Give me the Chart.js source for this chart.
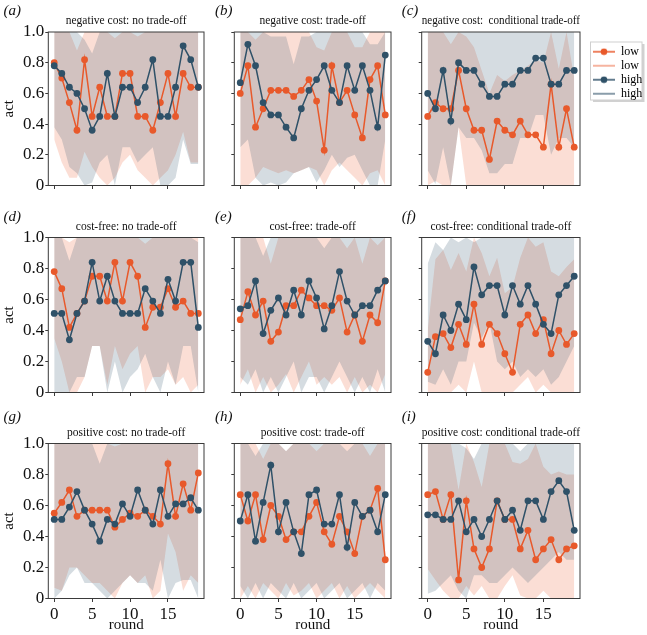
<!DOCTYPE html>
<html>
<head>
<meta charset="utf-8">
<script src="https://cdn.jsdelivr.net/npm/chart.js@4.4.1/dist/chart.umd.min.js"></script>
<style>
  body { margin: 0; background: #fff; }
  #wrap { position: relative; width: 647px; height: 635px; }
  #wrap canvas { position: absolute; }
</style>
</head>
<body>
<div id="wrap"></div>
<script>
const rounds = [0, 1, 2, 3, 4, 5, 6, 7, 8, 9, 10, 11, 12, 13, 14, 15, 16, 17, 18, 19];
const xTicks = [0, 5, 10, 15];
const xTickLabels = ['0', '5', '10', '15'];
const yTicks = [0, 0.2, 0.4, 0.6, 0.8, 1.0];
const yTickLabels = ['0', '0.2', '0.4', '0.6', '0.8', '1.0'];
const seriesNames = ['low', 'high'];

// (a) negative cost: no trade-off
const lowA = [0.80, 0.70, 0.54, 0.36, 0.82, 0.45, 0.64, 0.45, 0.45, 0.73, 0.73, 0.45, 0.45, 0.36, 0.54, 0.73, 0.45, 0.73, 0.64, 0.64];
const highA = [0.78, 0.73, 0.64, 0.60, 0.50, 0.36, 0.45, 0.73, 0.45, 0.64, 0.64, 0.54, 0.64, 0.82, 0.45, 0.45, 0.64, 0.91, 0.82, 0.64];
const lowLoA = [0.30, 0.15, 0.05, 0.05, 0.22, 0.12, 0.05, 0, 0.05, 0.15, 0.2, 0.1, 0.05, 0, 0.05, 0.1, 0.2, 0.35, 0.15, 0.15];
const lowHiA = [1, 1, 1, 0.88, 1, 1, 1, 1, 0.96, 1, 1, 0.97, 1, 1, 1, 1, 1, 1, 1, 1];
const highLoA = [0.38, 0.3, 0.12, 0.08, 0, 0.02, 0.15, 0.2, 0, 0.25, 0.25, 0.15, 0.2, 0.25, 0, 0, 0.05, 0.3, 0.14, 0.14];
const highHiA = [1, 1, 1, 1, 0.95, 0.86, 1, 1, 1, 1, 1, 1, 1, 1, 1, 1, 1, 1, 1, 1];

// (b) negative cost: trade-off
const lowB = [0.60, 0.78, 0.38, 0.50, 0.62, 0.62, 0.62, 0.58, 0.62, 0.69, 0.55, 0.23, 0.78, 0.54, 0.62, 0.46, 0.31, 0.69, 0.78, 0.46];
const highB = [0.67, 0.92, 0.78, 0.54, 0.46, 0.46, 0.38, 0.31, 0.50, 0.62, 0.69, 0.78, 0.62, 0.54, 0.78, 0.62, 0.78, 0.62, 0.38, 0.85];
const lowLoB = [0, 0, 0.05, 0.12, 0.1, 0.08, 0.1, 0.08, 0.1, 0.12, 0.1, 0, 0.1, 0.15, 0.1, 0.05, 0, 0.08, 0.1, 0];
const lowHiB = [1, 1, 0.95, 1, 1, 1, 1, 1, 1, 1, 0.9, 0.88, 1, 1, 1, 0.9, 0.9, 1, 1, 1];
const highLoB = [0.25, 0.3, 0.05, 0, 0.02, 0, 0.02, 0.08, 0.1, 0.12, 0.02, 0.1, 0.2, 0.12, 0.18, 0.2, 0.1, 0, 0, 0.3];
const highHiB = [1, 1, 1, 1, 0.97, 0.97, 0.97, 0.79, 0.97, 0.97, 1, 1, 1, 1, 1, 1, 1, 0.92, 0.92, 1];

// (c) negative cost: conditional trade-off
const lowC = [0.45, 0.54, 0.50, 0.50, 0.75, 0.50, 0.36, 0.36, 0.17, 0.42, 0.36, 0.33, 0.42, 0.33, 0.33, 0.25, 0.66, 0.25, 0.50, 0.25];
const highC = [0.60, 0.50, 0.75, 0.42, 0.80, 0.75, 0.75, 0.66, 0.58, 0.58, 0.66, 0.66, 0.75, 0.75, 0.83, 0.83, 0.66, 0.66, 0.75, 0.75];
const lowLoC = [0, 0.03, 0, 0, 0.38, 0, 0, 0, 0, 0, 0, 0, 0, 0, 0, 0, 0, 0, 0, 0];
const lowHiC = [1, 1, 1, 0.92, 1, 0.97, 0.9, 0.75, 0.6, 0.72, 0.68, 0.72, 0.75, 0.78, 0.82, 0.8, 1, 0.76, 1, 0.7];
const highLoC = [0.1, 0.01, 0.25, 0, 0.38, 0.31, 0.31, 0.23, 0.08, 0.08, 0.14, 0.14, 0.31, 0.31, 0.46, 0.46, 0.2, 0.31, 0.31, 0.25];
const highHiC = [1, 1, 1, 1, 1, 1, 1, 1, 1, 1, 1, 1, 1, 1, 1, 1, 1, 1, 1, 1];

// (d) cost-free: no trade-off
const lowD = [0.78, 0.67, 0.42, 0.51, 0.59, 0.75, 0.75, 0.59, 0.84, 0.59, 0.84, 0.75, 0.42, 0.55, 0.55, 0.67, 0.55, 0.59, 0.51, 0.51];
const highD = [0.51, 0.51, 0.34, 0.51, 0.59, 0.84, 0.59, 0.75, 0.59, 0.51, 0.51, 0.51, 0.67, 0.59, 0.51, 0.73, 0.59, 0.84, 0.84, 0.42];
const lowLoD = [0.35, 0.2, 0, 0, 0.1, 0.3, 0.3, 0.05, 0.3, 0.15, 0.25, 0.3, 0, 0.1, 0.1, 0.15, 0.05, 0.1, 0, 0.05];
const lowHiD = [1, 1, 0.97, 1, 1, 1, 1, 1, 1, 1, 1, 1, 0.96, 1, 1, 1, 1, 1, 1, 1];
const highLoD = [0, 0, 0, 0.1, 0.1, 0.3, 0.3, 0, 0.2, 0, 0.1, 0.15, 0.25, 0.1, 0, 0.2, 0.05, 0.3, 0.3, 0];
const highHiD = [1, 1, 0.85, 1, 1, 1, 1, 1, 1, 1, 1, 1, 1, 1, 1, 1, 1, 1, 1, 0.97];

// (e) cost-free: trade-off
const lowE = [0.47, 0.65, 0.50, 0.59, 0.33, 0.39, 0.56, 0.56, 0.66, 0.61, 0.56, 0.56, 0.53, 0.61, 0.39, 0.50, 0.33, 0.50, 0.45, 0.72];
const highE = [0.54, 0.56, 0.72, 0.38, 0.53, 0.61, 0.50, 0.66, 0.50, 0.72, 0.61, 0.41, 0.56, 0.78, 0.59, 0.50, 0.56, 0.56, 0.66, 0.72];
const lowLoE = [0.05, 0.15, 0, 0.1, 0, 0.05, 0.12, 0, 0.1, 0.2, 0.05, 0.1, 0.05, 0.1, 0, 0.1, 0, 0.05, 0, 0.12];
const lowHiE = [1, 1, 1, 1, 0.83, 1, 1, 1, 1, 1, 1, 1, 1, 1, 0.93, 1, 0.83, 1, 0.95, 1];
const highLoE = [0.1, 0.05, 0.15, 0, 0.1, 0, 0.1, 0.2, 0, 0.1, 0.1, 0, 0.1, 0.2, 0.1, 0, 0.1, 0, 0.15, 0];
const highHiE = [1, 1, 1, 0.88, 1, 1, 1, 1, 1, 1, 1, 0.93, 1, 1, 1, 1, 1, 1, 1, 1];

// (f) cost-free: conditional trade-off
const lowF = [0.13, 0.36, 0.38, 0.29, 0.44, 0.31, 0.57, 0.31, 0.44, 0.38, 0.25, 0.13, 0.44, 0.50, 0.38, 0.47, 0.25, 0.40, 0.31, 0.38];
const highF = [0.33, 0.25, 0.50, 0.40, 0.57, 0.47, 0.81, 0.63, 0.69, 0.69, 0.50, 0.69, 0.57, 0.69, 0.57, 0.44, 0.38, 0.63, 0.69, 0.75];
const lowLoF = [0, 0, 0, 0, 0.05, 0, 0.2, 0, 0, 0, 0, 0, 0.05, 0.1, 0, 0.05, 0, 0, 0, 0];
const lowHiF = [0.4, 0.86, 0.92, 0.79, 0.9, 0.78, 1, 0.9, 0.75, 0.87, 0.64, 0.68, 0.87, 1, 0.94, 0.97, 0.78, 0.75, 0.81, 0.86];
const highLoF = [0.07, 0.05, 0.15, 0.05, 0.2, 0.2, 0.45, 0.35, 0.45, 0.2, 0.15, 0.2, 0.1, 0.15, 0.1, 0.15, 0.05, 0.1, 0.2, 0.3];
const highHiF = [0.83, 0.97, 0.92, 1, 0.97, 1, 0.97, 1, 1, 1, 1, 1, 1, 1, 1, 1, 1, 1, 1, 1];

// (g) positive cost: no trade-off
const lowG = [0.55, 0.62, 0.70, 0.53, 0.57, 0.57, 0.57, 0.57, 0.46, 0.51, 0.55, 0.53, 0.57, 0.53, 0.48, 0.87, 0.53, 0.74, 0.57, 0.81];
const highG = [0.51, 0.51, 0.59, 0.69, 0.57, 0.48, 0.37, 0.51, 0.48, 0.61, 0.53, 0.70, 0.57, 0.48, 0.70, 0.53, 0.61, 0.61, 0.65, 0.57];
const lowLoG = [0.07, 0.05, 0.2, 0.2, 0.15, 0.1, 0.1, 0.05, 0, 0.1, 0.15, 0.1, 0.15, 0, 0.05, 0.42, 0.3, 0.05, 0.15, 0.1];
const lowHiG = [1, 1, 1, 1, 1, 1, 1, 1, 0.98, 1, 1, 1, 1, 1, 1, 1, 1, 1, 1, 1];
const highLoG = [0, 0.05, 0.15, 0.2, 0.1, 0.1, 0.05, 0, 0.05, 0.1, 0.15, 0.1, 0.1, 0.05, 0.25, 0, 0.1, 0.12, 0.12, 0];
const highHiG = [1, 1, 1, 1, 1, 1, 0.87, 1, 1, 1, 1, 1, 1, 1, 1, 1, 1, 1, 1, 1];

// (h) positive cost: trade-off
const lowH = [0.67, 0.50, 0.67, 0.38, 0.60, 0.53, 0.38, 0.43, 0.43, 0.53, 0.62, 0.43, 0.35, 0.53, 0.43, 0.29, 0.53, 0.57, 0.71, 0.25];
const highH = [0.50, 0.67, 0.37, 0.62, 0.86, 0.43, 0.62, 0.43, 0.29, 0.67, 0.70, 0.48, 0.48, 0.67, 0.33, 0.62, 0.53, 0.57, 0.43, 0.67];
const lowLoH = [0, 0.08, 0, 0.1, 0.05, 0, 0.1, 0.02, 0.05, 0.1, 0, 0.05, 0.1, 0, 0.08, 0, 0.05, 0.1, 0.05, 0];
const lowHiH = [1, 1, 1, 0.9, 1, 1, 0.95, 1, 1, 1, 0.95, 1, 1, 1, 1, 1, 1, 0.92, 1, 1];
const highLoH = [0.08, 0, 0.1, 0, 0.1, 0.05, 0, 0.1, 0, 0.05, 0.1, 0, 0.05, 0.1, 0, 0.05, 0.1, 0, 0.1, 0.05];
const highHiH = [1, 1, 0.92, 1, 1, 1, 0.95, 1, 1, 1, 1, 1, 1, 1, 0.95, 1, 1, 1, 1, 1];

// (i) positive cost: conditional trade-off
const lowI = [0.67, 0.69, 0.51, 0.67, 0.12, 0.63, 0.32, 0.20, 0.32, 0.63, 0.51, 0.51, 0.32, 0.44, 0.25, 0.32, 0.38, 0.25, 0.32, 0.34];
const highI = [0.54, 0.54, 0.51, 0.51, 0.63, 0.43, 0.51, 0.40, 0.51, 0.63, 0.51, 0.57, 0.44, 0.63, 0.63, 0.51, 0.69, 0.76, 0.69, 0.44];
const lowLoI = [0.19, 0.12, 0.05, 0, 0, 0.08, 0.02, 0.08, 0, 0, 0.08, 0.15, 0.02, 0, 0, 0.05, 0, 0, 0, 0];
const lowHiI = [1, 1, 1, 1, 0.7, 1, 0.88, 0.72, 1, 1, 1, 0.88, 0.87, 0.9, 1, 0.85, 0.8, 0.82, 0.8, 0.8];
const highLoI = [0.03, 0.05, 0.1, 0.15, 0.05, 0, 0.15, 0.15, 0.1, 0.1, 0.15, 0.2, 0.15, 0.1, 0.15, 0.2, 0.25, 0.3, 0.25, 0.25];
const highHiI = [1, 1, 1, 1, 1, 0.97, 0.9, 1, 1, 1, 1, 1, 0.95, 1, 1, 1, 1, 1, 1, 1];

const panels = [
  { tag: '(a)', title: 'negative cost: no trade-off', low: lowA, high: highA, lowLo: lowLoA, lowHi: lowHiA, highLo: highLoA, highHi: highHiA },
  { tag: '(b)', title: 'negative cost: trade-off', low: lowB, high: highB, lowLo: lowLoB, lowHi: lowHiB, highLo: highLoB, highHi: highHiB },
  { tag: '(c)', title: 'negative cost:  conditional trade-off', low: lowC, high: highC, lowLo: lowLoC, lowHi: lowHiC, highLo: highLoC, highHi: highHiC },
  { tag: '(d)', title: 'cost-free: no trade-off', low: lowD, high: highD, lowLo: lowLoD, lowHi: lowHiD, highLo: highLoD, highHi: highHiD },
  { tag: '(e)', title: 'cost-free: trade-off', low: lowE, high: highE, lowLo: lowLoE, lowHi: lowHiE, highLo: highLoE, highHi: highHiE },
  { tag: '(f)', title: 'cost-free: conditional trade-off', low: lowF, high: highF, lowLo: lowLoF, lowHi: lowHiF, highLo: highLoF, highHi: highHiF },
  { tag: '(g)', title: 'positive cost: no trade-off', low: lowG, high: highG, lowLo: lowLoG, lowHi: lowHiG, highLo: highLoG, highHi: highHiG },
  { tag: '(h)', title: 'positive cost: trade-off', low: lowH, high: highH, lowLo: lowLoH, lowHi: lowHiH, highLo: highLoH, highHi: highHiH },
  { tag: '(i)', title: 'positive cost: conditional trade-off', low: lowI, high: highI, lowLo: lowLoI, lowHi: lowHiI, highLo: highLoI, highHi: highHiI },
];

// styling and layout
const orange = '#e8592b';
const navy = '#2f5168';
const orangeBand = 'rgba(233, 89, 44, 0.2)';
const navyBand = 'rgba(47, 80, 104, 0.2)';
const frameColor = '#3a3a3a';
const serif = "'Liberation Serif', 'Times New Roman', serif";

const cols = [
  { left: 0, width: 210, yw: 48.3, pr: 6, tagX: 3.5 },
  { left: 210, width: 187, yw: 24.3, pr: 6, tagX: 5 },
  { left: 397, width: 250, yw: 24.7, pr: 67, tagX: 4.7 },
];
const rows = [
  { top: 0, height: 200, areaTop: 32, areaBottom: 185.5, tagY: 11 },
  { top: 200, height: 205, areaTop: 237.5, areaBottom: 392.5, tagY: 17 },
  { top: 405, height: 230, areaTop: 443.5, areaBottom: 598.5, tagY: 12.5 },
];

Chart.defaults.font.family = serif;

const pts = ys => rounds.map((r, i) => ({ x: r, y: ys[i] }));

function legendIcon(color, marker) {
  const c = document.createElement('canvas');
  c.width = 22; c.height = 8;
  const g = c.getContext('2d');
  g.strokeStyle = color; g.lineWidth = 1.5;
  g.beginPath(); g.moveTo(0, 4); g.lineTo(22, 4); g.stroke();
  if (marker) {
    g.fillStyle = color;
    g.beginPath(); g.arc(11, 4, 3.3, 0, Math.PI * 2); g.fill();
  }
  return c;
}

const legendItems = [
  { text: seriesNames[0], pointStyle: legendIcon(orange, true), fillStyle: orange, strokeStyle: orange, lineWidth: 0, hidden: false },
  { text: seriesNames[0], pointStyle: legendIcon('rgba(233, 89, 44, 0.6)', false), fillStyle: orange, strokeStyle: orange, lineWidth: 0, hidden: false },
  { text: seriesNames[1], pointStyle: legendIcon(navy, true), fillStyle: navy, strokeStyle: navy, lineWidth: 0, hidden: false },
  { text: seriesNames[1], pointStyle: legendIcon('rgba(47, 80, 104, 0.75)', false), fillStyle: navy, strokeStyle: navy, lineWidth: 0, hidden: false },
];

// frame, panel tag, and legend box placement
const decor = {
  id: 'decor',
  beforeDraw(chart, args, opts) {
    if (!opts.legend) return;
    const lg = chart.legend;
    const ctx = chart.ctx;
    lg.left = 194; lg.top = 43.7;
    lg.right = lg.left + 60; lg.bottom = lg.top + 70;
    ctx.save();
    ctx.fillStyle = 'rgba(0,0,0,0.18)';
    ctx.fillRect(196, 44, 51.5, 58);
    ctx.fillStyle = '#fff';
    ctx.fillRect(193.5, 42, 51.5, 58);
    ctx.strokeStyle = '#cfcfcf';
    ctx.lineWidth = 1;
    ctx.strokeRect(193.5, 42, 51.5, 58);
    ctx.restore();
  },
  afterDraw(chart, args, opts) {
    const a = chart.chartArea;
    const ctx = chart.ctx;
    ctx.save();
    ctx.strokeStyle = frameColor;
    ctx.lineWidth = 1;
    ctx.strokeRect(a.left, a.top, a.right - a.left, a.bottom - a.top);
    ctx.fillStyle = '#111';
    ctx.font = 'italic 15px ' + serif;
    ctx.textBaseline = 'middle';
    ctx.fillText(opts.tag, opts.tagX, opts.tagY);
    ctx.restore();
  }
};

const wrap = document.getElementById('wrap');

panels.forEach((p, k) => {
  const col = cols[k % 3];
  const row = rows[Math.floor(k / 3)];
  const showY = k % 3 === 0;
  const showX = k >= 6;
  const isLegend = k === 2;

  const canvas = document.createElement('canvas');
  canvas.width = col.width;
  canvas.height = row.height;
  canvas.style.left = col.left + 'px';
  canvas.style.top = row.top + 'px';
  canvas.style.width = col.width + 'px';
  canvas.style.height = row.height + 'px';
  wrap.appendChild(canvas);

  const titleBottom = 4;
  const titleTop = (row.areaTop - row.top) - titleBottom - 11.5 * 1.2;
  const xh = row.height - (row.areaBottom - row.top);

  new Chart(canvas, {
    type: 'line',
    data: {
      datasets: [
        { label: seriesNames[0], data: pts(p.lowLo), borderWidth: 0, pointRadius: 0, fill: false, order: 3 },
        { label: seriesNames[0], data: pts(p.lowHi), borderWidth: 0, pointRadius: 0, fill: '-1', backgroundColor: orangeBand, order: 3 },
        { label: seriesNames[1], data: pts(p.highLo), borderWidth: 0, pointRadius: 0, fill: false, order: 2 },
        { label: seriesNames[1], data: pts(p.highHi), borderWidth: 0, pointRadius: 0, fill: '-1', backgroundColor: navyBand, order: 2 },
        { label: seriesNames[0], data: pts(p.low), borderColor: orange, backgroundColor: orange, borderWidth: 1.5,
          pointRadius: 3.4, pointBorderWidth: 0, pointBackgroundColor: orange, fill: false, order: 1 },
        { label: seriesNames[1], data: pts(p.high), borderColor: navy, backgroundColor: navy, borderWidth: 1.5,
          pointRadius: 3.4, pointBorderWidth: 0, pointBackgroundColor: navy, fill: false, order: 0 },
      ]
    },
    options: {
      responsive: false,
      animation: false,
      events: [],
      layout: { padding: { left: 0, top: 0, right: col.pr, bottom: 0 } },
      plugins: {
        title: {
          display: true, text: p.title, fullSize: false, color: '#111',
          font: { family: serif, size: 11.5, weight: 'normal', lineHeight: 1.2 },
          padding: { top: titleTop, bottom: titleBottom }
        },
        legend: {
          display: isLegend, position: 'chartArea', align: 'start',
          labels: {
            usePointStyle: true, pointStyleWidth: 22, padding: 2, color: '#111',
            font: { family: serif, size: 12 },
            generateLabels: () => legendItems
          }
        },
        tooltip: { enabled: false },
        decor: { tag: p.tag, tagX: col.tagX, tagY: row.tagY, legend: isLegend }
      },
      scales: {
        x: {
          type: 'linear', min: -0.78, max: 19.75,
          afterBuildTicks: s => { s.ticks = xTicks.map(v => ({ value: v })); },
          afterFit: s => { s.height = xh; },
          grid: { drawOnChartArea: false, drawTicks: true, tickLength: 3.5, color: frameColor },
          border: { display: false },
          ticks: { display: showX, autoSkip: false, maxRotation: 0, padding: 2, color: '#111',
                   font: { family: serif, size: 17 }, callback: (v, i) => xTickLabels[i] },
          title: { display: showX, text: 'round', color: '#111', font: { family: serif, size: 15 },
                   padding: { top: 0, bottom: 1 } }
        },
        y: {
          type: 'linear', min: 0, max: 1,
          afterBuildTicks: s => { s.ticks = yTicks.map(v => ({ value: v })); },
          afterFit: s => { s.width = col.yw; },
          grid: { drawOnChartArea: false, drawTicks: true, tickLength: 3, color: frameColor },
          border: { display: false },
          ticks: { display: showY, autoSkip: false, padding: 1, color: '#111',
                   font: { family: serif, size: 17 }, callback: (v, i) => yTickLabels[i] },
          title: { display: showY, text: 'act', color: '#111', font: { family: serif, size: 15 }, padding: 0.5 }
        }
      }
    },
    plugins: [decor]
  });
});
</script>
</body>
</html>
